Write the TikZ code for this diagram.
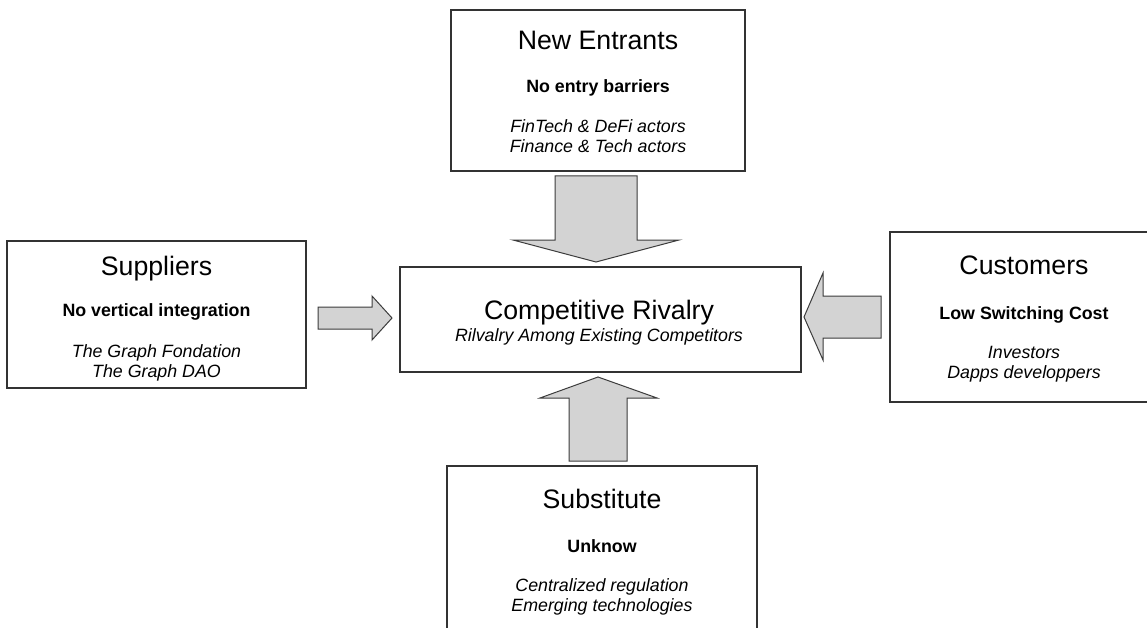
\documentclass[tikz,border=0pt]{standalone}
\usepackage{fontspec}
\setmainfont{Liberation Sans}
\definecolor{boxline}{HTML}{333333}
\definecolor{arrowline}{HTML}{3C3C3C}
\definecolor{arrowfill}{HTML}{D3D3D3}
\begin{document}
\begin{tikzpicture}[x=1pt,y=-1pt,
  box/.style={draw=boxline, line width=1.2pt, fill=white, inner sep=0pt, outer sep=0pt},
  ttl/.style={font=\fontsize{26.7}{32}\selectfont, anchor=base, inner sep=0pt},
  boldtxt/.style={font=\fontsize{17.8}{21}\selectfont\bfseries, anchor=base, inner sep=0pt},
  itl/.style={font=\fontsize{17.8}{21}\selectfont\itshape, anchor=base, inner sep=0pt},
  blockarrow/.style={draw=arrowline, fill=arrowfill, line width=1pt, line join=miter}]
\clip (0,0) rectangle (1147,628);
\fill[white] (0,0) rectangle (1147,628);

% boxes
\node[box, minimum width=294pt, minimum height=161pt] (ne) at (598,90.5) {};
\node[box, minimum width=299pt, minimum height=147pt] (sup) at (156.5,314.5) {};
\node[box, minimum width=268pt, minimum height=170pt] (cus) at (1024,317) {};
\node[box, minimum width=401pt, minimum height=105pt] (cr) at (600.5,319.5) {};
\node[box, minimum width=310pt, minimum height=234pt] (sub) at (602,583) {};

% block arrows
\draw[blockarrow] (555,176) -- (637,176) -- (637,240) -- (679,240) -- (596,262) -- (513,240) -- (555,240) -- cycle;
\draw[blockarrow] (318,307) -- (372,307) -- (372,296) -- (392,318) -- (372,340) -- (372,329) -- (318,329) -- cycle;
\draw[blockarrow] (881,296) -- (823,296) -- (823,273) -- (804,317) -- (823,360) -- (823,338) -- (881,338) -- cycle;
\draw[blockarrow] (569,461) -- (569,398) -- (540,398) -- (598,377) -- (657,398) -- (627,398) -- (627,461) -- cycle;

% New Entrants
\node[ttl] (neT) at (598,50) {New Entrants};
\node[boldtxt] (neB) at (598,92.7) {No entry barriers};
\node[itl] (neI1) at (598,132.7) {FinTech \& DeFi actors};
\node[itl] (neI2) at (598,152.7) {Finance \& Tech actors};

% Suppliers
\node[ttl] (supT) at (156.5,275) {Suppliers};
\node[boldtxt] (supB) at (156.5,316) {No vertical integration};
\node[itl] (supI1) at (156.5,357.3) {The Graph Fondation};
\node[itl] (supI2) at (156.5,377.3) {The Graph DAO};

% Customers
\node[ttl] (cusT) at (1024,274) {Customers};
\node[boldtxt] (cusB) at (1024,319) {Low Switching Cost};
\node[itl] (cusI1) at (1024,358.5) {Investors};
\node[itl] (cusI2) at (1024,378.5) {Dapps developpers};

% Competitive Rivalry
\node[ttl] (crT) at (599,319.3) {Competitive Rivalry};
\node[itl] (crI) at (599,341.7) {Rilvalry Among Existing Competitors};

% Substitute
\node[ttl] (subT) at (602,508.3) {Substitute};
\node[boldtxt] (subB) at (602,552.7) {Unknow};
\node[itl] (subI1) at (602,591.7) {Centralized regulation};
\node[itl] (subI2) at (602,611.5) {Emerging technologies};
\end{tikzpicture}
\end{document}
